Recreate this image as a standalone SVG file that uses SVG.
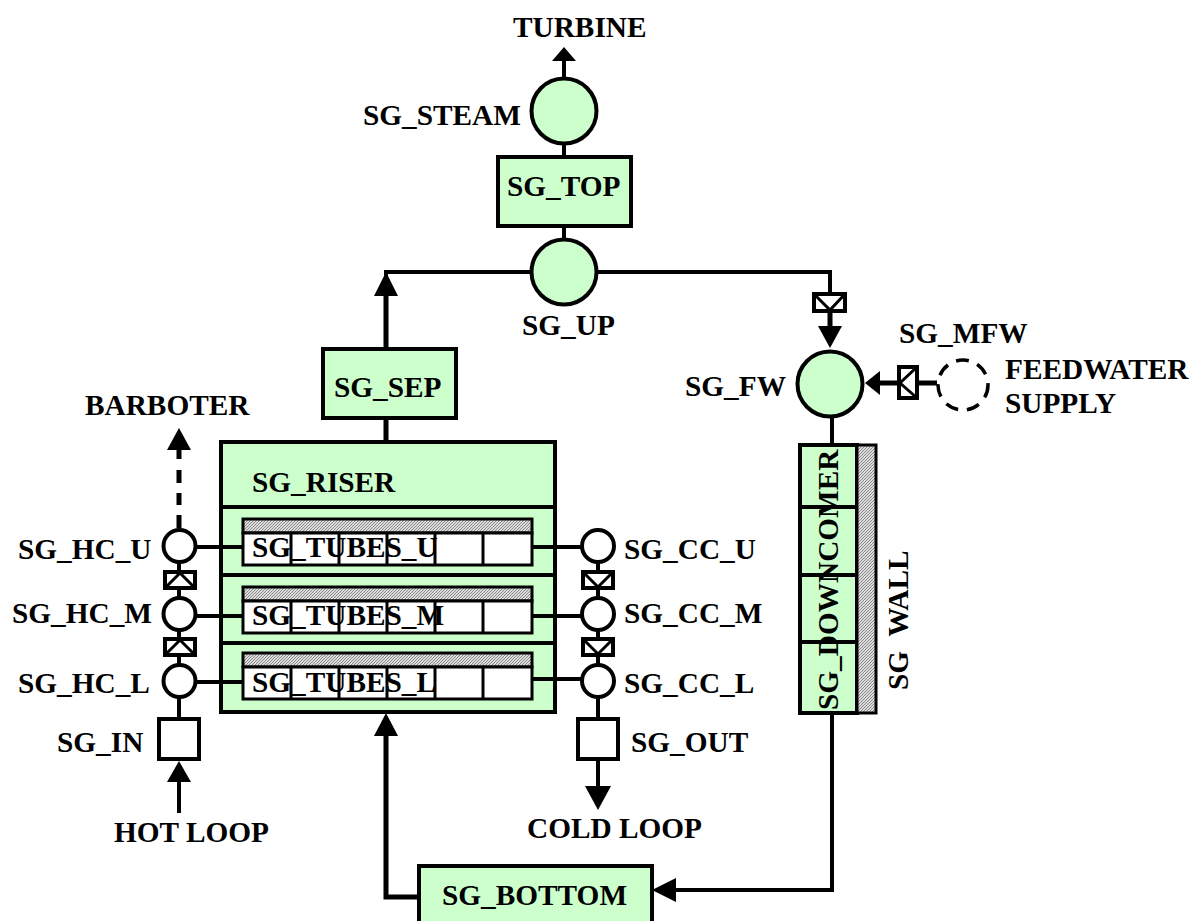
<svg xmlns="http://www.w3.org/2000/svg" width="1197" height="921" viewBox="0 0 1197 921">
<style>
text{font-family:"Liberation Serif","Times New Roman",serif;font-weight:bold;font-size:29.3px;fill:#000}
.g{fill:#ccffcc;stroke:#000;stroke-width:4}
.w{fill:#fff;stroke:#000;stroke-width:4}
.t{fill:#fff;stroke:#000;stroke-width:3}
.h{fill:url(#hatch);stroke:#000;stroke-width:3}
.l{fill:none;stroke:#000;stroke-width:4}
.c{fill:none;stroke:#000;stroke-width:5}
.a{fill:#000;stroke:none}
.v{fill:#fff;stroke:#000;stroke-width:4}
.x{fill:none;stroke:#000;stroke-width:3}
</style>
<defs>
<pattern id="hatch" width="3" height="3" patternUnits="userSpaceOnUse"><rect width="3" height="3" fill="#dcdcdc"/><path d="M0 3L3 0" stroke="#8a8a8a" stroke-width="1"/></pattern>
<g id="tube"><rect class="h" x="243" y="0" width="289" height="14"/><rect class="t" x="243" y="14" width="289" height="32"/><path class="x" d="M291 14v32M339 14v32M387 14v32M435 14v32M483 14v32"/></g>
</defs>
<g id="sg_steam"><circle class="g" cx="564" cy="111" r="32.500"/><text x="363" y="125">SG_STEAM</text></g>
<g id="turbine"><text x="513" y="37">TURBINE</text></g>
<g id="sg_top"><rect class="g" x="498" y="157" width="133" height="69"/><text x="507" y="196">SG_TOP</text></g>
<g id="sg_up"><circle class="g" cx="564" cy="272" r="32.500"/><text x="522" y="335">SG_UP</text></g>
<g id="sg_sep"><rect class="g" x="323" y="349" width="133" height="69"/><text x="334" y="397">SG_SEP</text></g>
<g id="barboter"><text x="85" y="415">BARBOTER</text></g>
<g id="sg_riser"><rect class="g" x="221" y="442" width="334" height="270"/><path class="l" d="M221 507H555M221 575H555M221 643H555"/><text x="252" y="492">SG_RISER</text></g>
<g id="sg_tubes_u"><use href="#tube" y="519"/><text x="252" y="557">SG_TUBES_U</text></g>
<g id="sg_tubes_m"><use href="#tube" y="587"/><text x="252" y="625">SG_TUBES_M</text></g>
<g id="sg_tubes_l"><use href="#tube" y="653"/><text x="252" y="692">SG_TUBES_L</text></g>
<g id="sg_hc_u"><circle class="w" cx="179.500" cy="546" r="16"/><text x="18" y="559">SG_HC_U</text></g>
<g id="sg_hc_m"><circle class="w" cx="179.500" cy="614" r="16"/><text x="12" y="623">SG_HC_M</text></g>
<g id="sg_hc_l"><circle class="w" cx="179.500" cy="681" r="16"/><text x="18" y="693">SG_HC_L</text></g>
<g id="sg_cc_u"><circle class="w" cx="598" cy="546" r="16"/><text x="624" y="559">SG_CC_U</text></g>
<g id="sg_cc_m"><circle class="w" cx="598" cy="614" r="16"/><text x="624" y="623">SG_CC_M</text></g>
<g id="sg_cc_l"><circle class="w" cx="598" cy="681" r="16"/><text x="624" y="693">SG_CC_L</text></g>
<g id="valve_hc_1"><rect class="v" x="165" y="572" width="30" height="16"/><path class="x" d="M165 588L180 573L195 588"/></g>
<g id="valve_hc_2"><rect class="v" x="165" y="639" width="30" height="16"/><path class="x" d="M165 655L180 640L195 655"/></g>
<g id="valve_cc_1"><rect class="v" x="583" y="572" width="30" height="16"/><path class="x" d="M583 572L598 587L613 572"/></g>
<g id="valve_cc_2"><rect class="v" x="583" y="639" width="30" height="16"/><path class="x" d="M583 639L598 654L613 639"/></g>
<g id="sg_in"><rect class="w" x="159" y="719" width="40" height="40"/><text x="57" y="752">SG_IN</text></g>
<g id="sg_out"><rect class="w" x="578" y="719" width="40" height="40"/><text x="631" y="752">SG_OUT</text></g>
<g id="hot_loop"><text x="114" y="842">HOT LOOP</text></g>
<g id="cold_loop"><text x="527" y="838">COLD LOOP</text></g>
<g id="sg_bottom"><rect class="g" x="419" y="866" width="233" height="70"/><text x="442" y="905">SG_BOTTOM</text></g>
<g id="valve_top"><rect class="v" x="814" y="294" width="31" height="17"/><path class="x" d="M814 294L830 310L845 294"/></g>
<g id="sg_fw"><circle class="g" cx="830" cy="384" r="32.500"/><text x="685" y="396">SG_FW</text></g>
<g id="valve_mfw"><rect class="v" x="899" y="367" width="18" height="31"/><path class="x" d="M917 367L900 383L917 398"/></g>
<g id="sg_mfw"><text x="899" y="343">SG_MFW</text></g>
<g id="feedwater"><circle cx="963" cy="385" r="25" fill="none" stroke="#000" stroke-width="3.5" stroke-dasharray="13 9"/><text x="1005" y="379">FEEDWATER</text><text x="1005" y="413">SUPPLY</text></g>
<g id="sg_downcomer"><rect class="g" x="800" y="445" width="57" height="268"/><path class="l" d="M800 507H857M800 575H857M800 642H857"/><text transform="translate(838 710) rotate(-90)">SG_DOWNCOMER</text></g>
<g id="sg_wall"><rect class="h" x="857" y="445" width="19" height="268"/><text transform="translate(908 690) rotate(-90)" xml:space="preserve">SG  WALL</text></g>
<g id="connectors">
<path class="l" d="M564 61V79M564 143V157M564 226V240"/>
<path class="l" d="M386 349V272H532M596 272H830V294"/>
<path class="c" d="M386 296V349M386 418V442"/>
<path class="c" d="M830 311V326"/>
<path class="l" d="M832 416V445M832 713V890H676"/>
<path class="c" d="M917 383H937M880 383H899"/>
<path class="c" d="M179 528V515M179 505V493M179 483V470M179 459V450"/>
<path class="l" d="M179 562V572M179 588V598M179 630V639M179 655V665M179 697V719M179 782V813"/>
<path class="l" d="M598 562V572M598 588V598M598 630V639M598 655V665M598 697V719M598 759V786"/>
<path class="l" d="M195 547H243M195 616H243M195 682H243M532 547H582M532 616H582M532 679H582"/>
<path class="c" d="M419 897H386V736"/>
<polygon class="a" points="564,47 576,61 552,61"/>
<polygon class="a" points="386,272 398,296 374,296"/>
<polygon class="a" points="830,348 818,326 842,326"/>
<polygon class="a" points="865,383 880,371 880,395"/>
<polygon class="a" points="179,428 191,450 167,450"/>
<polygon class="a" points="179,761 191,782 167,782"/>
<polygon class="a" points="598,810 585,786 611,786"/>
<polygon class="a" points="386,713 398,736 374,736"/>
<polygon class="a" points="652,890 676,878 676,902"/>
</g>
</svg>
